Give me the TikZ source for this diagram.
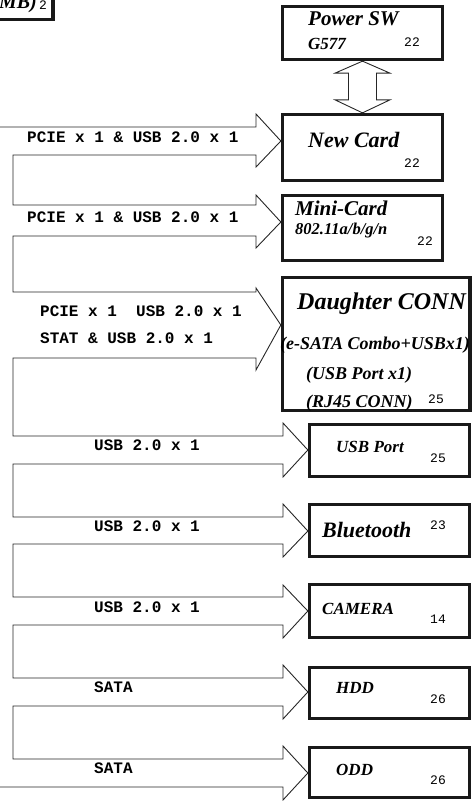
\documentclass[tikz,border=0pt]{standalone}
\usepackage{fontspec}
\setmainfont{Liberation Serif}
\newfontfamily\monofont{Liberation Mono}
\usetikzlibrary{calc,fit}

\begin{document}
\begin{tikzpicture}[
    x=1pt, y=-1pt,
    blk_box/.style={draw=black!90, line width=3.3pt, inner sep=0pt},
    ttl_lbl/.style={anchor=base west, inner sep=0pt, font=\bfseries\itshape\fontsize{#1}{#1}\selectfont},
    ttl_lbl/.default=18,
    bus_lbl/.style={anchor=base west, inner sep=0pt, font=\monofont\bfseries\fontsize{16}{16}\selectfont},
    pg_lbl/.style={anchor=base west, inner sep=0pt, font=\monofont\fontsize{13}{13}\selectfont},
    pipe/.style={draw=black!85, line width=0.9pt, line join=miter}
]
    \useasboundingbox (0,0) rectangle (472,801);

    % Device boxes
    \node[blk_box, fit={(-10,-10) (53,19.5)}] (mb) {};
    \node[blk_box, fit={(282.5,6.5) (442.5,59.5)}] (ps) {};
    \node[blk_box, fit={(282.5,114.5) (442.5,180.5)}] (nc) {};
    \node[blk_box, fit={(282.5,195.5) (442.5,260.5)}] (mc) {};
    \node[blk_box, fit={(282.5,277.5) (470,410.5)}] (dc) {};
    \node[blk_box, fit={(309.5,424.5) (469.5,476.5)}] (up) {};
    \node[blk_box, fit={(309.5,504.5) (469.5,556.5)}] (bt) {};
    \node[blk_box, fit={(309.5,584.5) (469.5,637.5)}] (cam) {};
    \node[blk_box, fit={(309.5,667.5) (469.5,718.5)}] (hdd) {};
    \node[blk_box, fit={(309.5,747.5) (469.5,797.5)}] (odd) {};

    % Box texts
    \node[ttl_lbl=20, anchor=base east] (mb_t) at (37,8) {MB)};
    \node[pg_lbl] (mb_p) at (39,9) {2};
    \node[ttl_lbl=21] (ps_t) at (308,25) {Power SW};
    \node[ttl_lbl=17] (ps_s) at (308,49) {G577};
    \node[pg_lbl] (ps_p) at (404,46) {22};
    \node[ttl_lbl=22] (nc_t) at (308,147) {New Card};
    \node[pg_lbl] (nc_p) at (404,167) {22};
    \node[ttl_lbl=21] (mc_t) at (295,215) {Mini-Card};
    \node[ttl_lbl=16.5] (mc_s) at (295,234) {802.11a/b/g/n};
    \node[pg_lbl] (mc_p) at (417,245) {22};
    \node[ttl_lbl=24] (dc_t) at (297,309) {Daughter CONN};
    \node[ttl_lbl] (dc_s1) at (280,349) {(e-SATA Combo+USBx1)};
    \node[ttl_lbl] (dc_s2) at (306,379) {(USB Port x1)};
    \node[ttl_lbl] (dc_s3) at (306,407) {(RJ45 CONN)};
    \node[pg_lbl] (dc_p) at (428,403) {25};
    \node[ttl_lbl=17] (up_t) at (336,452) {USB Port};
    \node[pg_lbl] (up_p) at (430,462) {25};
    \node[ttl_lbl=22] (bt_t) at (322,537) {Bluetooth};
    \node[pg_lbl] (bt_p) at (430,529) {23};
    \node[ttl_lbl=17] (cam_t) at (322,614) {CAMERA};
    \node[pg_lbl] (cam_p) at (430,623) {14};
    \node[ttl_lbl=17] (hdd_t) at (336,693) {HDD};
    \node[pg_lbl] (hdd_p) at (430,703) {26};
    \node[ttl_lbl=17] (odd_t) at (336,775) {ODD};
    \node[pg_lbl] (odd_p) at (430,784) {26};

    % Power switch link
    \draw[pipe] (ps.south) -- ($(ps.south)+(27.5,12)$) -- ($(ps.south)+(14,12)$)
        -- ($(nc.north)+(14,-13)$) -- ($(nc.north)+(27.5,-13)$) -- (nc.north)
        -- ($(nc.north)+(-27.5,-13)$) -- ($(nc.north)+(-14,-13)$)
        -- ($(ps.south)+(-14,12)$) -- ($(ps.south)+(-27.5,12)$) -- cycle;

    % Bus pipe snaking down to every box
    \draw[pipe] (0,127)
        foreach \bx/\t/\b/\hx/\ht/\hb/\tp in {nc/127/155/256/114/167/141, mc/205/236/256/195/248/222,
            dc/292/358/256/288/370/325, up/436/464/283/423/477/450, bt/517/544/283/504/557/531,
            cam/597/625/283/585/638/611, hdd/678/706/283/665/719/692, odd/759/787/283/746/800/773}
        { -- (13,\t) -- (\hx,\t) -- (\hx,\ht) -- (\bx.west |- 0,\tp) -- (\hx,\hb) -- (\hx,\b) -- (13,\b) }
        -- (0,787);

    % Bus labels
    \node[bus_lbl] (nc_bus) at (27,142) {PCIE x 1 \& USB 2.0 x 1};
    \node[bus_lbl] (mc_bus) at (27,222) {PCIE x 1 \& USB 2.0 x 1};
    \node[bus_lbl] (dc_bus1) at (40,316) {PCIE x 1~~USB 2.0 x 1};
    \node[bus_lbl] (dc_bus2) at (40,343) {STAT \& USB 2.0 x 1};
    \node[bus_lbl] (up_bus) at (94,450) {USB 2.0 x 1};
    \node[bus_lbl] (bt_bus) at (94,531) {USB 2.0 x 1};
    \node[bus_lbl] (cam_bus) at (94,612) {USB 2.0 x 1};
    \node[bus_lbl] (hdd_bus) at (94,692) {SATA};
    \node[bus_lbl] (odd_bus) at (94,773) {SATA};
\end{tikzpicture}
\end{document}
